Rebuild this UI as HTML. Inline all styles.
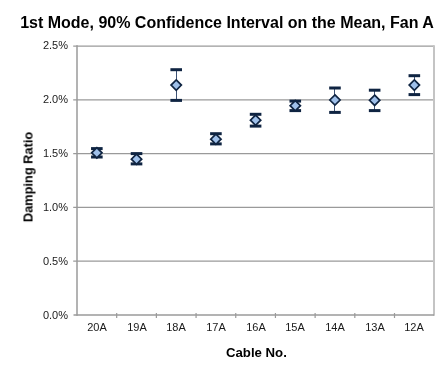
<!DOCTYPE html>
<html><head><meta charset="utf-8"><style>
html,body{margin:0;padding:0;background:#fff;width:448px;height:369px;overflow:hidden;position:relative;font-family:"Liberation Sans",sans-serif;color:#000}
.t{position:absolute;left:0;top:14px;width:454px;text-align:center;font-weight:bold;font-size:16px;white-space:nowrap}
.yl{position:absolute;left:20px;width:48px;text-align:right;font-size:11px;line-height:14px;color:#1a1a1a}
.xl{position:absolute;top:320px;width:40px;text-align:center;font-size:11px;line-height:14px;color:#1a1a1a}
.yt{position:absolute;left:28px;top:177px;transform:translate(-50%,-50%) rotate(-90deg);font-weight:bold;font-size:12.8px;white-space:nowrap}
.xt{position:absolute;left:226px;top:345px;font-weight:bold;font-size:13.2px;white-space:nowrap}
svg{position:absolute;left:0;top:0}
.t,.yl,.xl,.yt,.xt{will-change:transform}
</style></head><body>
<div class="t">1st Mode, 90% Confidence Interval on the Mean, Fan A</div>
<svg width="448" height="369" viewBox="0 0 448 369">
<line x1="73.2" y1="46.0" x2="434.0" y2="46.0" stroke="#9a9a9a" stroke-width="1.25"/>
<line x1="73.2" y1="99.8" x2="434.0" y2="99.8" stroke="#9a9a9a" stroke-width="1.25"/>
<line x1="73.2" y1="153.6" x2="434.0" y2="153.6" stroke="#9a9a9a" stroke-width="1.25"/>
<line x1="73.2" y1="207.4" x2="434.0" y2="207.4" stroke="#9a9a9a" stroke-width="1.25"/>
<line x1="73.2" y1="261.2" x2="434.0" y2="261.2" stroke="#9a9a9a" stroke-width="1.25"/>
<line x1="434.0" y1="45.2" x2="434.0" y2="315.8" stroke="#c4c4c4" stroke-width="2"/>
<line x1="77.0" y1="45.2" x2="77.0" y2="315.8" stroke="#9a9a9a" stroke-width="1.5"/>
<line x1="73.5" y1="315.0" x2="434.0" y2="315.0" stroke="#9a9a9a" stroke-width="1.5"/>
<line x1="116.6875" y1="313.0" x2="116.6875" y2="318.0" stroke="#9a9a9a" stroke-width="1.2"/>
<line x1="156.375" y1="313.0" x2="156.375" y2="318.0" stroke="#9a9a9a" stroke-width="1.2"/>
<line x1="196.0625" y1="313.0" x2="196.0625" y2="318.0" stroke="#9a9a9a" stroke-width="1.2"/>
<line x1="235.75" y1="313.0" x2="235.75" y2="318.0" stroke="#9a9a9a" stroke-width="1.2"/>
<line x1="275.4375" y1="313.0" x2="275.4375" y2="318.0" stroke="#9a9a9a" stroke-width="1.2"/>
<line x1="315.125" y1="313.0" x2="315.125" y2="318.0" stroke="#9a9a9a" stroke-width="1.2"/>
<line x1="354.8125" y1="313.0" x2="354.8125" y2="318.0" stroke="#9a9a9a" stroke-width="1.2"/>
<line x1="394.5" y1="313.0" x2="394.5" y2="318.0" stroke="#9a9a9a" stroke-width="1.2"/>
<line x1="96.5" y1="148.60000000000002" x2="96.5" y2="157.0" stroke="#3d5275" stroke-width="1"/>
<line x1="91.04375" y1="148.60000000000002" x2="102.64375" y2="148.60000000000002" stroke="#0f2442" stroke-width="3"/>
<line x1="91.04375" y1="157.0" x2="102.64375" y2="157.0" stroke="#0f2442" stroke-width="3"/>
<polygon points="96.84375,147.65 101.99375,152.8 96.84375,157.95000000000002 91.69375,152.8" fill="#9fc0ea" stroke="#0f2442" stroke-width="1.7"/>
<line x1="136.5" y1="153.60000000000002" x2="136.5" y2="163.9" stroke="#3d5275" stroke-width="1"/>
<line x1="130.73125" y1="153.60000000000002" x2="142.33125" y2="153.60000000000002" stroke="#0f2442" stroke-width="3"/>
<line x1="130.73125" y1="163.9" x2="142.33125" y2="163.9" stroke="#0f2442" stroke-width="3"/>
<polygon points="136.53125,154.05 141.68125,159.20000000000002 136.53125,164.35000000000002 131.38125,159.20000000000002" fill="#9fc0ea" stroke="#0f2442" stroke-width="1.7"/>
<line x1="176.5" y1="69.7" x2="176.5" y2="100.39999999999999" stroke="#3d5275" stroke-width="1"/>
<line x1="170.41875" y1="69.7" x2="182.01875" y2="69.7" stroke="#0f2442" stroke-width="3"/>
<line x1="170.41875" y1="100.39999999999999" x2="182.01875" y2="100.39999999999999" stroke="#0f2442" stroke-width="3"/>
<polygon points="176.21875,79.94999999999999 181.36875,85.1 176.21875,90.25 171.06875,85.1" fill="#9fc0ea" stroke="#0f2442" stroke-width="1.7"/>
<line x1="215.5" y1="133.70000000000002" x2="215.5" y2="143.9" stroke="#3d5275" stroke-width="1"/>
<line x1="210.10625" y1="133.70000000000002" x2="221.70625" y2="133.70000000000002" stroke="#0f2442" stroke-width="3"/>
<line x1="210.10625" y1="143.9" x2="221.70625" y2="143.9" stroke="#0f2442" stroke-width="3"/>
<polygon points="215.90625,134.05 221.05625,139.20000000000002 215.90625,144.35000000000002 210.75625,139.20000000000002" fill="#9fc0ea" stroke="#0f2442" stroke-width="1.7"/>
<line x1="255.5" y1="114.3" x2="255.5" y2="126.1" stroke="#3d5275" stroke-width="1"/>
<line x1="249.79375" y1="114.3" x2="261.39375" y2="114.3" stroke="#0f2442" stroke-width="3"/>
<line x1="249.79375" y1="126.1" x2="261.39375" y2="126.1" stroke="#0f2442" stroke-width="3"/>
<polygon points="255.59375,115.05 260.74375,120.2 255.59375,125.35000000000001 250.44375,120.2" fill="#9fc0ea" stroke="#0f2442" stroke-width="1.7"/>
<line x1="295.5" y1="101.1" x2="295.5" y2="110.6" stroke="#3d5275" stroke-width="1"/>
<line x1="289.48125" y1="101.1" x2="301.08125" y2="101.1" stroke="#0f2442" stroke-width="3"/>
<line x1="289.48125" y1="110.6" x2="301.08125" y2="110.6" stroke="#0f2442" stroke-width="3"/>
<polygon points="295.28125,100.55 300.43125,105.7 295.28125,110.85000000000001 290.13125,105.7" fill="#9fc0ea" stroke="#0f2442" stroke-width="1.7"/>
<line x1="334.5" y1="88.0" x2="334.5" y2="112.39999999999999" stroke="#3d5275" stroke-width="1"/>
<line x1="329.16875" y1="88.0" x2="340.76875" y2="88.0" stroke="#0f2442" stroke-width="3"/>
<line x1="329.16875" y1="112.39999999999999" x2="340.76875" y2="112.39999999999999" stroke="#0f2442" stroke-width="3"/>
<polygon points="334.96875,94.85 340.11875,100.0 334.96875,105.15 329.81875,100.0" fill="#9fc0ea" stroke="#0f2442" stroke-width="1.7"/>
<line x1="374.5" y1="90.2" x2="374.5" y2="110.6" stroke="#3d5275" stroke-width="1"/>
<line x1="368.85625" y1="90.2" x2="380.45625" y2="90.2" stroke="#0f2442" stroke-width="3"/>
<line x1="368.85625" y1="110.6" x2="380.45625" y2="110.6" stroke="#0f2442" stroke-width="3"/>
<polygon points="374.65625,95.14999999999999 379.80625,100.3 374.65625,105.45 369.50625,100.3" fill="#9fc0ea" stroke="#0f2442" stroke-width="1.7"/>
<line x1="414.5" y1="75.7" x2="414.5" y2="94.6" stroke="#3d5275" stroke-width="1"/>
<line x1="408.54375" y1="75.7" x2="420.14375" y2="75.7" stroke="#0f2442" stroke-width="3"/>
<line x1="408.54375" y1="94.6" x2="420.14375" y2="94.6" stroke="#0f2442" stroke-width="3"/>
<polygon points="414.34375,79.94999999999999 419.49375,85.1 414.34375,90.25 409.19375,85.1" fill="#9fc0ea" stroke="#0f2442" stroke-width="1.7"/>
</svg>
<div class="yl" style="top:38.0px">2.5%</div><div class="yl" style="top:92.0px">2.0%</div><div class="yl" style="top:145.9px">1.5%</div><div class="yl" style="top:199.9px">1.0%</div><div class="yl" style="top:253.8px">0.5%</div><div class="yl" style="top:307.8px">0.0%</div>
<div class="xl" style="left:76.8px">20A</div><div class="xl" style="left:116.5px">19A</div><div class="xl" style="left:156.2px">18A</div><div class="xl" style="left:195.9px">17A</div><div class="xl" style="left:235.6px">16A</div><div class="xl" style="left:275.3px">15A</div><div class="xl" style="left:315.0px">14A</div><div class="xl" style="left:354.7px">13A</div><div class="xl" style="left:394.3px">12A</div>
<div class="yt">Damping Ratio</div>
<div class="xt">Cable No.</div>
</body></html>
